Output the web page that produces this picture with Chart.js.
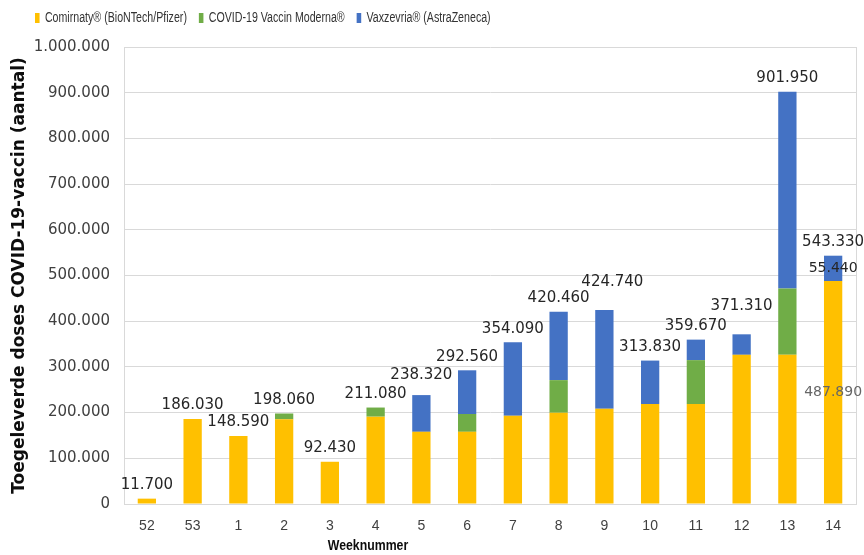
<!DOCTYPE html>
<html>
<head>
<meta charset="utf-8">
<script src="https://cdn.jsdelivr.net/npm/chart.js@4.4.1/dist/chart.umd.min.js"></script>
<style>
  html, body { margin: 0; padding: 0; background: #fff; }
  #wrap { width: 864px; height: 555px; }
</style>
</head>
<body>
<div id="wrap"><canvas id="chart"></canvas></div>
<script>
const weeks = ['52', '53', '1', '2', '3', '4', '5', '6', '7', '8', '9', '10', '11', '12', '13', '14'];

const seriesNames = ['Comirnaty® (BioNTech/Pfizer)', 'COVID-19 Vaccin Moderna®', 'Vaxzevria® (AstraZeneca)'];

const comirnaty = [11700, 186030, 148590, 185250, 92430, 191100, 157950, 157950, 193050, 199680, 208650, 218790, 218790, 326430, 326430, 487890];
const moderna = [0, 0, 0, 12810, 0, 19980, 0, 39000, 0, 71400, 0, 0, 96000, 0, 145200, 0];
const astrazeneca = [0, 0, 0, 0, 0, 0, 80370, 95610, 161040, 149380, 216090, 95040, 44880, 44880, 430320, 55440];

const yTicks = [0, 100000, 200000, 300000, 400000, 500000, 600000, 700000, 800000, 900000, 1000000];

// week whose segments also get their own value label
const segmentLabelWeek = '14';

// total labels that were moved by hand in the original (dx, dy in px)
const labelNudge = { '5': [0, -6], '9': [8, -14], '12': [0, -15] };

const colors = ['#FFC000', '#70AD47', '#4472C4'];

// the narrow look of the original legend / axis title
const NARROW = 0.76;
const LEGEND_X = 35;

function formatNumber(v) {
  return String(v).replace(/\B(?=(\d{3})+(?!\d))/g, '.');
}

var totalsPlugin = {
  id: 'totals',
  afterDatasetsDraw: function (chart) {
    var ctx = chart.ctx;
    var xScale = chart.scales.x;
    var yScale = chart.scales.y;
    var sets = chart.data.datasets;

    ctx.save();
    ctx.textAlign = 'center';
    ctx.textBaseline = 'middle';

    ctx.font = '15px "DejaVu Sans"';
    ctx.fillStyle = '#262626';
    weeks.forEach((w, i) => {
      var total = 0;
      sets.forEach(d => { total += d.data[i] || 0; });
      var nudge = labelNudge[w] || [0, 0];
      var x = xScale.getPixelForValue(i);
      var y = yScale.getPixelForValue(total);
      ctx.fillText(formatNumber(total), x + nudge[0], y - 13.5 + nudge[1]);
    });

    // labels inside the segments of the last week
    var idx = weeks.indexOf(segmentLabelWeek);
    var segColors = ['#666666', '#262626', '#262626'];
    ctx.font = '14px "DejaVu Sans"';
    sets.forEach((d, k) => {
      var v = d.data[idx];
      if (!v) {
        return;
      }
      var bar = chart.getDatasetMeta(k).data[idx];
      ctx.fillStyle = segColors[k];
      ctx.fillText(formatNumber(v), bar.x, (bar.y + bar.base) / 2);
    });

    ctx.restore();
  }
};

var layoutPlugin = {
  id: 'layoutTweaks',
  beforeInit: function (chart) {
    var legend = chart.legend;
    var fit = legend.fit;
    var draw = legend.draw;
    legend.fit = function () {
      fit.call(legend);
      legend.height = 47;
    };
    legend.draw = function (area) {
      var ctx = chart.ctx;
      ctx.save();
      ctx.translate(LEGEND_X, 0);
      ctx.scale(NARROW, 1);
      ctx.translate(-LEGEND_X, 0);
      draw.call(legend, area);
      ctx.restore();
    };
  },
  afterLayout: function (chart) {
    var labels = chart.legend.options.labels;
    chart.legend.left = LEGEND_X - labels.padding;
    chart.legend.top = 18 - labels.padding - labels.font.size / 2;
  },
  afterDraw: function (chart) {
    var ctx = chart.ctx;
    var area = chart.chartArea;
    var x = area.left + area.width / 3;
    ctx.save();
    ctx.translate(x, 546);
    ctx.scale(0.82, 1);
    ctx.font = 'bold 15px "Liberation Sans", Arial, sans-serif';
    ctx.fillStyle = '#0d0d0d';
    ctx.textAlign = 'center';
    ctx.textBaseline = 'middle';
    ctx.fillText('Weeknummer', 0, 0);
    ctx.restore();
  }
};

var chart = new Chart(document.getElementById('chart').getContext('2d'), {
  type: 'bar',
  data: {
    labels: weeks,
    datasets: [
      { label: seriesNames[0], data: comirnaty, backgroundColor: colors[0] },
      { label: seriesNames[1], data: moderna, backgroundColor: colors[1] },
      { label: seriesNames[2], data: astrazeneca, backgroundColor: colors[2] }
    ]
  },
  options: {
    responsive: true,
    maintainAspectRatio: false,
    devicePixelRatio: 1,
    animation: false,
    events: [],
    datasets: {
      bar: {
        barPercentage: 0.4,
        categoryPercentage: 1,
        borderWidth: 0
      }
    },
    layout: {
      padding: { left: 0, right: 8, top: 0, bottom: 7 }
    },
    plugins: {
      tooltip: { enabled: false },
      legend: {
        position: 'top',
        align: 'start',
        labels: {
          boxWidth: 6,
          boxHeight: 10,
          padding: 15.7,
          color: '#333333',
          font: { family: '"Liberation Sans", Arial, sans-serif', size: 14 }
        }
      }
    },
    scales: {
      x: {
        stacked: true,
        grid: { display: false, drawTicks: false },
        border: { display: true, color: '#D9D9D9' },
        ticks: {
          padding: 13.6,
          color: '#404040',
          font: { family: '"Liberation Sans", Arial, sans-serif', size: 14 }
        }
      },
      y: {
        stacked: true,
        min: 0,
        max: 1000000,
        afterBuildTicks: function (s) {
          s.ticks = yTicks.map(v => ({ value: v }));
        },
        afterFit: function (s) { s.width = 124; },
        grid: { color: '#D9D9D9', drawTicks: false },
        border: { display: true, color: '#D9D9D9' },
        ticks: {
          padding: 14,
          color: '#404040',
          font: { family: '"DejaVu Sans"', size: 15 },
          callback: function (v) { return formatNumber(v); }
        },
        title: {
          display: true,
          text: 'Toegeleverde doses COVID-19-vaccin (aantal)',
          color: '#0d0d0d',
          padding: { top: 9, bottom: 4 },
          font: { family: '"DejaVu Sans"', size: 17, weight: 'bold' }
        }
      },
      yRight: {
        position: 'right',
        display: true,
        ticks: { display: false },
        grid: { display: false, drawTicks: false },
        border: { display: true, color: '#D9D9D9' },
        afterFit: function (s) { s.width = 0; }
      }
    }
  },
  plugins: [totalsPlugin, layoutPlugin]
});
</script>
</body>
</html>
